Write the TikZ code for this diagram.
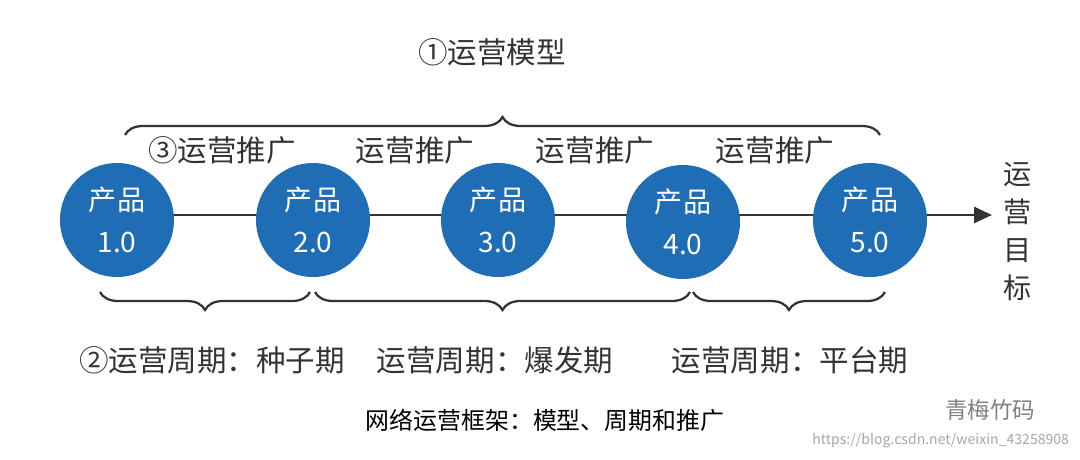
\documentclass[tikz,border=0pt]{standalone}
\usepackage{fontspec}
\setmainfont{Noto Sans CJK SC}
\newfontfamily\cjk{Noto Sans CJK SC}
\usetikzlibrary{arrows.meta,decorations.pathreplacing}
\definecolor{prodblue}{HTML}{1F6DB5}
\definecolor{textgray}{HTML}{333333}
\begin{document}
\begin{tikzpicture}[x=0.025cm,y=-0.025cm,
prod/.style = {circle, fill=prodblue, minimum size=2.85cm, inner sep=0pt, text=white, font=\fontsize{20}{30}\selectfont, align=center},
lbl/.style = {text=textgray, font=\fontsize{21}{23}\selectfont},
brc/.style = {decorate, decoration={brace, amplitude=0.45cm}, line width=1.6pt, draw=textgray},
>={Triangle[length=0.45cm,width=0.4cm]}
]
\useasboundingbox (0,0) rectangle (1080,460);

\node [lbl, font=\fontsize{20}{27}\selectfont, align=center, inner sep=0pt] (goal) at (1018,232) {运\\营\\目\\标};
\draw [->, line width=2pt, textgray] (117,215) -- (992,215);

\node [prod] (p1) at (117,220) {产品\\1.0};
\node [prod] (p2) at (313,220) {产品\\2.0};
\node [prod] (p3) at (498,220) {产品\\3.0};
\node [prod] (p4) at (683,222) {产品\\4.0};
\node [prod] (p5) at (870,220) {产品\\5.0};

% top
\draw [brc] (125,135) -- (880,135);
\node [lbl] (model) at (492,52) {①运营模型};
\node [lbl] (pr1) at (222,150) {③运营推广};
\node [lbl] (pr2) at (415,150) {运营推广};
\node [lbl] (pr3) at (595,150) {运营推广};
\node [lbl] (pr4) at (775,150) {运营推广};

% bottom
\draw [brc] (310,292) -- (100,292);
\draw [brc] (690,292) -- (315,292);
\draw [brc] (885,292) -- (693,292);
\node [lbl] (c1) at (212,360) {②运营周期：种子期};
\node [lbl] (c2) at (495,360) {运营周期：爆发期};
\node [lbl] (c3) at (790,360) {运营周期：平台期};

\node [text=black, font=\fontsize{17}{19}\selectfont] (cap) at (545,420) {网络运营框架：模型、周期和推广};
\node [text=gray, font=\fontsize{16}{18}\selectfont] (wm) at (990,410) {青梅竹码};
\node [text=gray!70, font=\fontsize{10}{12}\selectfont, anchor=east] (url) at (1074,441) {https://blog.csdn.net/weixin\_43258908};
\end{tikzpicture}
\end{document}
